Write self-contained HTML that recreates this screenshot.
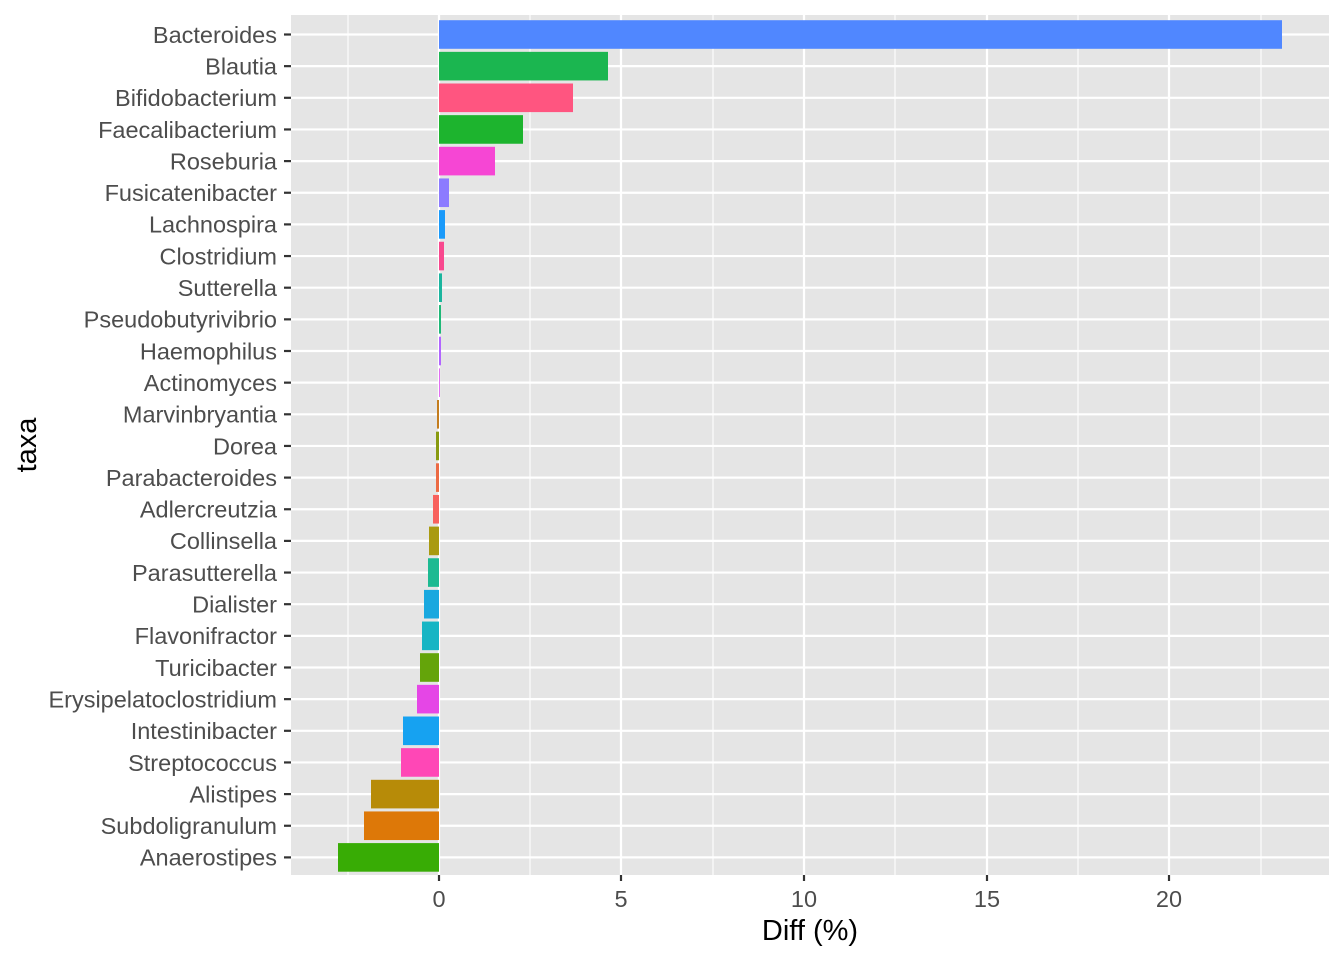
<!DOCTYPE html>
<html><head><meta charset="utf-8"><style>body{margin:0;background:#fff}svg{display:block}</style></head>
<body>
<svg width="1344" height="960" xmlns="http://www.w3.org/2000/svg" font-family="Liberation Sans, Arial, sans-serif">
<rect x="291" y="15" width="1038" height="860" fill="#E5E5E5"/>
<g stroke="#fff" stroke-width="1.1">
<line x1="348" y1="15" x2="348" y2="875"/><line x1="530" y1="15" x2="530" y2="875"/><line x1="713" y1="15" x2="713" y2="875"/><line x1="895" y1="15" x2="895" y2="875"/><line x1="1078" y1="15" x2="1078" y2="875"/><line x1="1261" y1="15" x2="1261" y2="875"/>
</g>
<g stroke="#fff" stroke-width="2.2" id="g"></g>
<g id="bars"></g>
<g id="lab" fill="#4D4D4D" font-size="23.5" text-anchor="end"></g>
<g fill="#4D4D4D" font-size="23.5" text-anchor="middle">
<text x="439" y="907">0</text><text x="621" y="907">5</text><text x="804" y="907">10</text><text x="987" y="907">15</text><text x="1169" y="907">20</text>
</g>
<g stroke="#333" stroke-width="2.2">
<line x1="439" y1="875" x2="439" y2="881"/><line x1="621" y1="875" x2="621" y2="881"/><line x1="804" y1="875" x2="804" y2="881"/><line x1="987" y1="875" x2="987" y2="881"/><line x1="1169" y1="875" x2="1169" y2="881"/>
</g>
<g id="ticks" stroke="#333" stroke-width="2.2"></g>
<text x="810" y="940" font-size="29" text-anchor="middle" fill="#000">Diff (%)</text>
<text transform="translate(36,445) rotate(-90)" font-size="29" text-anchor="middle" fill="#000">taxa</text>
<script>
var d=[["Bacteroides",1282,"#5087FF"],["Blautia",608,"#1BB650"],["Bifidobacterium",573,"#FF5580"],["Faecalibacterium",523,"#1DB42E"],["Roseburia",495,"#F646D4"],["Fusicatenibacter",449,"#8C7BFF"],["Lachnospira",445,"#1A9AFA"],["Clostridium",444,"#F8488E"],["Sutterella",442,"#1BB59E"],["Pseudobutyrivibrio",441,"#1FB877"],["Haemophilus",441,"#B265FF"],["Actinomyces",439.5,"#DA4BEF"],["Marvinbryantia",437,"#C47D1E"],["Dorea",436,"#889A10"],["Parabacteroides",436,"#EC6A43"],["Adlercreutzia",433,"#F8615D"],["Collinsella",429,"#A99A10"],["Parasutterella",428,"#1CBA92"],["Dialister",424,"#19A8DF"],["Flavonifractor",422,"#16B5C4"],["Turicibacter",420,"#64A40A"],["Erysipelatoclostridium",417,"#E546E6"],["Intestinibacter",403,"#16A2F1"],["Streptococcus",401,"#FF47B6"],["Alistipes",371,"#B78B08"],["Subdoligranulum",364,"#DD7808"],["Anaerostipes",338,"#38AC05"]];
var ns="http://www.w3.org/2000/svg",G=document.getElementById("g"),B=document.getElementById("bars"),L=document.getElementById("lab"),T=document.getElementById("ticks");
function el(t,a,p,txt){var e=document.createElementNS(ns,t);for(var k in a)e.setAttribute(k,a[k]);if(txt)e.textContent=txt;p.appendChild(e);}
[439,621,804,987,1169].forEach(function(x){el("line",{x1:x,y1:15,x2:x,y2:875},G);});
d.forEach(function(r,i){var y=34.5+i*31.65;
el("line",{x1:291,y1:y,x2:1329,y2:y},G);
var x0=Math.min(439,r[1]),w=Math.abs(r[1]-439);
el("rect",{x:x0,y:y-14.3,width:Math.max(w,0.8),height:28.6,fill:r[2]},B);
el("text",{x:277,y:y+8.3},L,r[0]);
el("line",{x1:284,y1:y,x2:291,y2:y},T);});
</script>
</svg>
</body></html>
